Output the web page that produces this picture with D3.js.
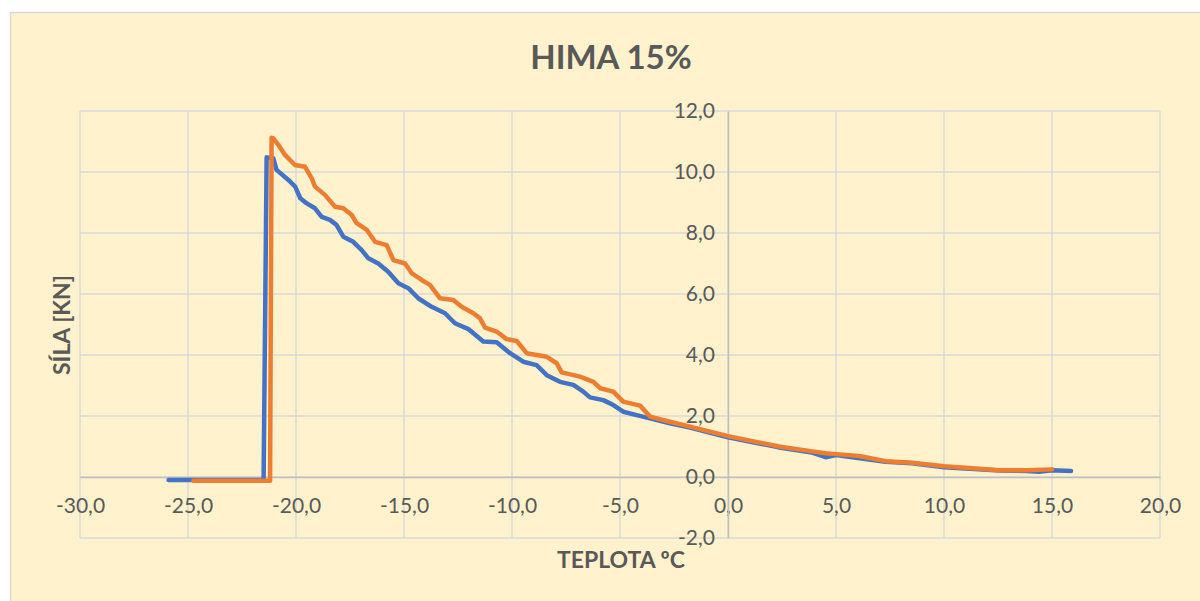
<!DOCTYPE html>
<html>
<head>
<meta charset="utf-8">
<script src="https://cdn.jsdelivr.net/npm/d3@7"></script>
<style>
	body { margin: 0; background: #ffffff; }
	svg { display: block; font-family: Lato, 'Open Sans', sans-serif; }
</style>
</head>
<body>
<svg id="svg-port" width="1200" height="601"></svg>
<script>
// series: temperature [°C] / force [kN]
var blueTemp = [-25.9, -21.5, -21.36, -21.05, -20.9, -20.35, -20.04, -19.8, -19.5, -19.12, -18.81, -18.43, -18.12, -17.81, -17.35, -16.96, -16.65, -16.19, -15.73, -15.26, -14.8, -14.34, -13.72, -13.1, -12.64, -12.02, -11.33, -10.71, -10.09, -9.48, -8.86, -8.39, -7.78, -7.16, -6.7, -6.39, -5.77, -5.31, -4.85, -4.23, -3.61, -2.69, -1.76, 0, 2.36, 3.9, 4.52, 5.0, 5.76, 7.3, 8.53, 10, 11, 12.56, 13.8, 14.4, 15.0, 15.88];
var blueForce = [-0.1, -0.1, 10.48, 10.45, 10.07, 9.74, 9.52, 9.14, 8.97, 8.81, 8.53, 8.43, 8.26, 7.88, 7.71, 7.44, 7.17, 7.0, 6.73, 6.35, 6.19, 5.86, 5.58, 5.37, 5.04, 4.85, 4.44, 4.42, 4.06, 3.78, 3.67, 3.34, 3.12, 3.02, 2.8, 2.61, 2.52, 2.36, 2.14, 2.03, 1.92, 1.76, 1.62, 1.3, 0.97, 0.8, 0.65, 0.72, 0.65, 0.5, 0.45, 0.32, 0.28, 0.21, 0.2, 0.17, 0.22, 0.2];

var orangeTemp = [-24.75, -21.2, -21.13, -21.05, -20.82, -20.51, -20.05, -19.58, -19.27, -19.12, -18.66, -18.19, -17.81, -17.42, -17.19, -16.72, -16.34, -15.8, -15.49, -14.95, -14.64, -14.18, -13.8, -13.33, -12.72, -12.33, -11.79, -11.48, -11.25, -10.71, -10.25, -9.78, -9.32, -8.39, -7.93, -7.7, -6.85, -6.23, -5.92, -5.31, -4.85, -4.07, -3.61, -2.69, -1.76, 0, 2.36, 3.9, 4.52, 5.0, 6.07, 7.3, 8.53, 10, 11, 12.56, 13.8, 15.0];
var orangeForce = [-0.12, -0.12, 11.12, 11.1, 10.89, 10.56, 10.23, 10.17, 9.79, 9.52, 9.25, 8.86, 8.81, 8.59, 8.32, 8.1, 7.71, 7.6, 7.11, 7.0, 6.68, 6.46, 6.3, 5.86, 5.8, 5.58, 5.37, 5.2, 4.9, 4.77, 4.52, 4.46, 4.06, 3.94, 3.73, 3.43, 3.29, 3.12, 2.91, 2.8, 2.47, 2.34, 1.98, 1.81, 1.65, 1.34, 1.0, 0.84, 0.78, 0.75, 0.69, 0.52, 0.47, 0.35, 0.3, 0.22, 0.22, 0.25];

var xTicks = [-30, -25, -20, -15, -10, -5, 0, 5, 10, 15, 20];
var yTicks = [-2, 0, 2, 4, 6, 8, 10, 12];

var chartTitle = 'HIMA 15%';
var xTitle = 'TEPLOTA ºC';
var yTitle = 'SÍLA [KN]';

function zip(xs, ys) {
	return xs.map(function (x, i) { return {x: x, y: ys[i]} });
}

function commaFormat(v) {
	return d3.format('.1f')(v).replace('.', ',').replace('\u2212', '-');
}

function DrawChart() {
	var svg = d3.select('#svg-port');
	var textColor = '#595959';
	var gridColor = '#d9d9d9';

	// chart area background + frame (runs off the right / bottom edge like the original)
	svg.append('rect')
		.attr('x', 10.5).attr('y', 12.5)
		.attr('width', 1200).attr('height', 600)
		.attr('fill', '#fff2cc')
		.attr('stroke', gridColor)
		.attr('stroke-width', 1.5);

	var x = d3.scaleLinear().domain([-30, 20]).range([80, 1160]);
	var y = d3.scaleLinear().domain([-2, 12]).range([538, 111]);

	// gridlines
	var grid = svg.append('g').attr('class', 'grid');
	grid.selectAll('line.v')
		.data(xTicks)
		.enter().append('line')
		.attr('class', 'v')
		.attr('x1', function (d) { return x(d) }).attr('x2', function (d) { return x(d) })
		.attr('y1', y(12)).attr('y2', y(-2))
		.attr('stroke', gridColor).attr('stroke-width', 1.5);
	grid.selectAll('line.h')
		.data(yTicks)
		.enter().append('line')
		.attr('class', 'h')
		.attr('x1', x(-30)).attr('x2', x(20))
		.attr('y1', function (d) { return y(d) }).attr('y2', function (d) { return y(d) })
		.attr('stroke', gridColor).attr('stroke-width', 1.5);

	// axes cross at zero
	var xAxis = d3.axisBottom(x)
		.tickValues(xTicks)
		.tickSize(0)
		.tickPadding(21)
		.tickFormat(commaFormat);
	var yAxis = d3.axisLeft(y)
		.tickValues(yTicks)
		.tickSize(0)
		.tickPadding(13)
		.tickFormat(commaFormat);

	var gx = svg.append('g')
		.attr('transform', 'translate(0,' + y(0) + ')')
		.call(xAxis);
	var gy = svg.append('g')
		.attr('transform', 'translate(' + x(0) + ',0)')
		.call(yAxis);

	[gx, gy].forEach(function (g) {
		g.select('.domain').attr('stroke', '#bfbfbf').attr('stroke-width', 1.5);
		g.selectAll('text')
			.attr('fill', textColor)
			.style('font-size', '21px')
			.style('font-family', 'Lato, sans-serif');
	});

	// series
	var line = d3.line()
		.x(function (d) { return x(d.x) })
		.y(function (d) { return y(d.y) });

	var series = [
		{name: 'blue', color: '#4472c4', points: zip(blueTemp, blueForce)},
		{name: 'orange', color: '#ed7d31', points: zip(orangeTemp, orangeForce)}
	];

	svg.append('g')
		.attr('class', 'series')
		.selectAll('path')
		.data(series)
		.enter().append('path')
		.attr('d', function (d) { return line(d.points) })
		.attr('fill', 'none')
		.attr('stroke', function (d) { return d.color })
		.attr('stroke-width', 4.5)
		.attr('stroke-linejoin', 'round')
		.attr('stroke-linecap', 'round');

	// titles
	svg.append('text')
		.attr('x', 611).attr('y', 69)
		.attr('text-anchor', 'middle')
		.attr('fill', textColor)
		.style('font-size', '33px')
		.style('font-weight', 'bold')
		.text(chartTitle);

	svg.append('text')
		.attr('x', 621).attr('y', 568)
		.attr('text-anchor', 'middle')
		.attr('fill', textColor)
		.style('font-size', '23px')
		.style('font-weight', 'bold')
		.text(xTitle);

	svg.append('text')
		.attr('transform', 'translate(70,325) rotate(-90)')
		.attr('text-anchor', 'middle')
		.attr('fill', textColor)
		.style('font-size', '23px')
		.style('font-weight', 'bold')
		.text(yTitle);
}

document.addEventListener('DOMContentLoaded', DrawChart);
</script>
</body>
</html>
